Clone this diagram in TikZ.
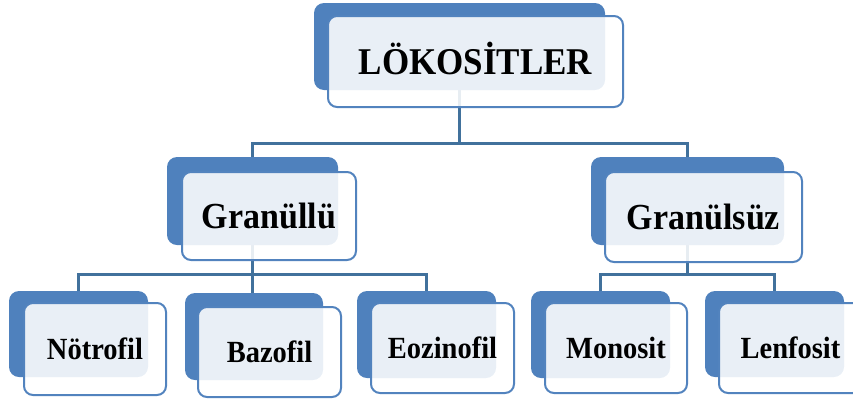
\documentclass[tikz,border=0pt]{standalone}
\usepackage{fontspec}
\setmainfont{Liberation Serif}
\pgfdeclarelayer{background}
\pgfsetlayers{background,main}
\definecolor{boxblue}{HTML}{4F81BD}
\definecolor{edgeblue}{HTML}{5283BE}
\definecolor{lineblue}{HTML}{41719C}

% labels are set a little taller than wide
\newcommand\tallbox[1]{\scalebox{1}[1.08]{#1}}

\tikzset{
  backbox/.style={draw=none, fill=boxblue, rounded corners=10pt, inner sep=0pt},
  frontbox/.style={draw=edgeblue, line width=2pt, fill=white, fill opacity=0.88,
    text opacity=1, rounded corners=9pt, inner sep=0pt},
  toptext/.style={font=\fontsize{35}{40}\selectfont\bfseries, text height=25pt, text depth=0pt},
  midtext/.style={font=\fontsize{34}{38}\selectfont\bfseries, text height=24pt, text depth=0pt},
  lowtext/.style={font=\fontsize{28.5}{32}\selectfont\bfseries, text height=20.5pt, text depth=0pt},
  link/.style={draw=lineblue, line width=3pt},
}

\begin{document}
\begin{tikzpicture}[x=1pt, y=-1pt]
  \useasboundingbox (0,0) rectangle (853,400);

  % root
  \node[backbox, minimum width=291pt, minimum height=87pt] (topB) at (459.5,46.5) {};
  \node[frontbox, toptext, minimum width=295pt, minimum height=91pt] (top) at (475.5,61.5) {\tallbox{LÖKOSİTLER}};

  % second level
  \node[backbox, minimum width=171pt, minimum height=88pt] (g1B) at (252.5,201) {};
  \node[frontbox, midtext, minimum width=174pt, minimum height=88pt] (g1) at (269,216) {\tallbox{Granüllü}};
  \node[backbox, minimum width=193pt, minimum height=88pt] (g2B) at (687.5,201) {};
  \node[frontbox, midtext, minimum width=197pt, minimum height=90pt] (g2) at (703.5,217) {\tallbox{Granülsüz}};

  % leaves
  \node[backbox, minimum width=139pt, minimum height=86pt] (nB) at (78.5,334) {};
  \node[frontbox, lowtext, minimum width=142pt, minimum height=92pt] (n) at (95,349) {\tallbox{Nötrofil}};
  \node[backbox, minimum width=138pt, minimum height=87pt] (bB) at (254,336.5) {};
  \node[frontbox, lowtext, minimum width=143pt, minimum height=90pt] (b) at (269.5,352) {\tallbox{Bazofil}};
  \node[backbox, minimum width=139pt, minimum height=87pt] (eB) at (426.5,334.5) {};
  \node[frontbox, lowtext, minimum width=143pt, minimum height=90pt] (e) at (442.5,348) {\tallbox{Eozinofil}};
  \node[backbox, minimum width=139pt, minimum height=87pt] (mB) at (600.5,334.5) {};
  \node[frontbox, lowtext, minimum width=142pt, minimum height=90pt] (m) at (616,348) {\tallbox{Monosit}};
  \node[backbox, minimum width=139pt, minimum height=86pt] (lB) at (774.5,334) {};
  \node[frontbox, lowtext, minimum width=143pt, minimum height=90pt] (l) at (790.5,348) {\tallbox{Lenfosit}};

  % tree connectors, behind the boxes
  \begin{pgfonlayer}{background}
    \coordinate (busA) at (0,143);
    \coordinate (busB) at (0,274);
    \draw[link] (topB.center) -- (topB.center |- busA) -| (g1B.center);
    \draw[link] (topB.center |- busA) -| (g2B.center);
    \draw[link] (g1B.center) -- (g1B.center |- busB) -| (nB.center);
    \draw[link] (g1B.center |- busB) -| (eB.center);
    \draw[link] (g1B.center |- busB) -- (g1B.center |- bB.center);
    \draw[link] (g2B.center) -- (g2B.center |- busB) -| (mB.center);
    \draw[link] (g2B.center |- busB) -| (lB.center);
  \end{pgfonlayer}
\end{tikzpicture}
\end{document}
